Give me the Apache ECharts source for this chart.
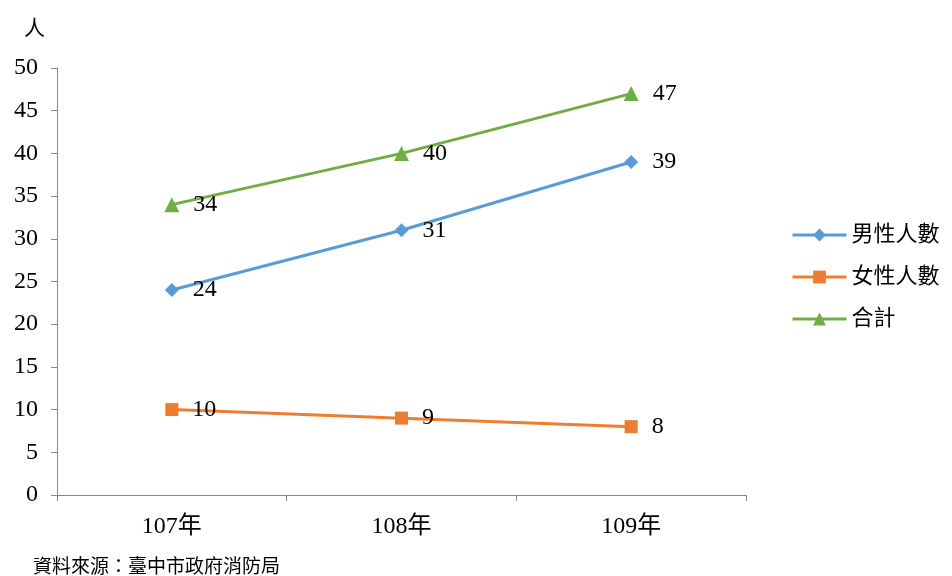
<!DOCTYPE html>
<html><head><meta charset="utf-8">
<script src="https://cdn.jsdelivr.net/npm/echarts@6/dist/echarts.min.js"></script>
<style>html,body{margin:0;padding:0;background:#fff}#c{width:952px;height:576px}</style>
</head><body><div id="c"></div>
<script>
const categories = ['107年', '108年', '109年'];
const maleValues = [24, 31, 39];
const femaleValues = [10, 9, 8];
const totalValues = [34, 40, 47];
const seriesNames = ['男性人數', '女性人數', '合計'];
const yUnit = '人';
const sourceText = '資料來源：臺中市政府消防局';

const FONT = "'Liberation Serif', 'Noto Sans CJK TC', serif";
const chart = echarts.init(document.getElementById('c'));
const mk = (name, data, color, symbol, size) => ({
  name, type: 'line', data, symbol, symbolSize: size,
  lineStyle: { color, width: 3 }, itemStyle: { color },
  label: { show: true, position: 'right', distance: 14, color: '#000', fontSize: 24, fontFamily: FONT },
  emphasis: { disabled: true }
});
chart.setOption({
  animation: false,
  textStyle: { fontFamily: FONT },
  grid: { left: 57, right: 206, top: 68, bottom: 81, containLabel: false },
  title: [
    { text: yUnit, left: 19, top: 14, textStyle: { fontSize: 21, fontWeight: 'normal', color: '#000', fontFamily: FONT } },
    { text: sourceText, left: 28, top: 554, textStyle: { fontSize: 19, fontWeight: 'normal', color: '#000', fontFamily: FONT } }
  ],
  legend: {
    orient: 'vertical', left: 786, top: 219, itemWidth: 54, itemHeight: 16, itemGap: 20, itemTextGap: 8,
    lineStyle: { width: 3 },
    textStyle: { fontSize: 22, color: '#000', fontFamily: FONT },
    data: seriesNames
  },
  xAxis: {
    type: 'category', data: categories, boundaryGap: true,
    axisLine: { lineStyle: { color: '#888', width: 1 } },
    axisTick: { show: true, length: 6, inside: false, lineStyle: { color: '#888' } },
    axisLabel: { fontSize: 24, color: '#000', margin: 20, fontFamily: FONT }
  },
  yAxis: {
    type: 'value', min: 0, max: 50, interval: 5,
    axisLine: { show: true, lineStyle: { color: '#888', width: 1 } },
    axisTick: { show: true, length: 6, lineStyle: { color: '#888' } },
    axisLabel: { fontSize: 24, color: '#000', margin: 19, fontFamily: FONT },
    splitLine: { show: false }
  },
  series: [
    mk(seriesNames[0], maleValues, '#5B9BD5', 'diamond', 14),
    mk(seriesNames[1], femaleValues, '#ED7D31', 'rect', 13),
    mk(seriesNames[2], totalValues, '#70AD47', 'triangle', 15)
  ]
});
</script></body></html>
